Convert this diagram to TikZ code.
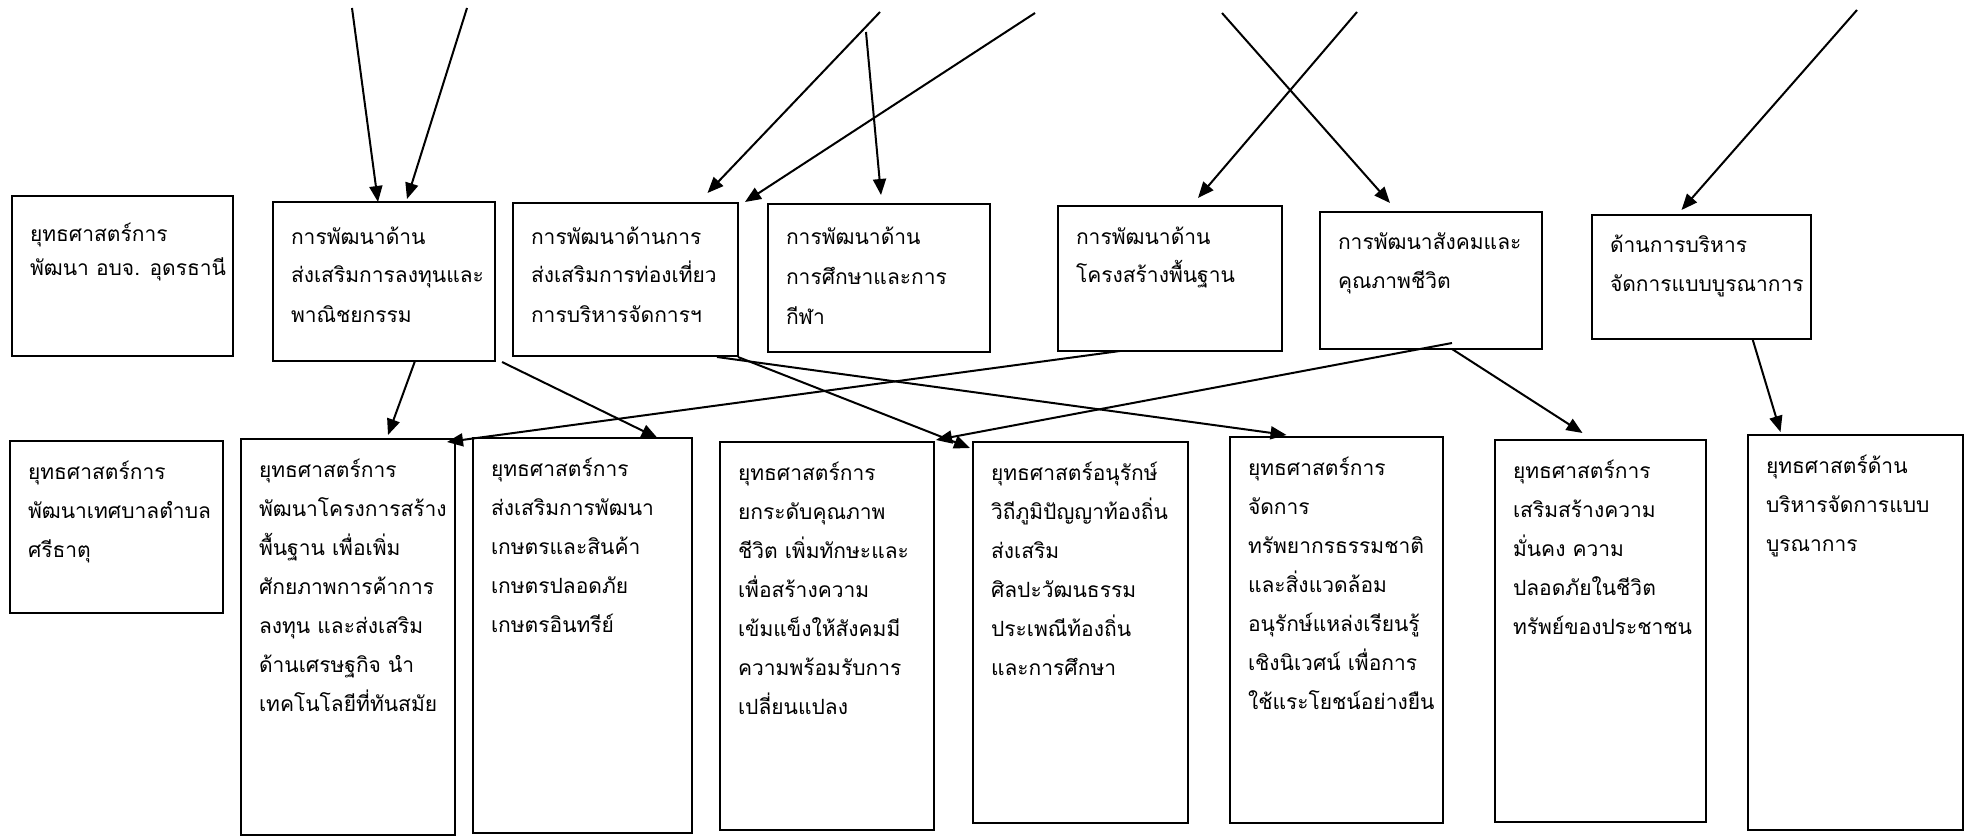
\documentclass[tikz,border=0pt]{standalone}
\usepackage{fontspec}
\newfontfamily\thaifont[Script=Thai]{Loma}
\usetikzlibrary{arrows.meta}
\tikzset{
  box/.style={draw, line width=2pt, inner sep=0pt, outer sep=0pt, anchor=north west},
  txt/.style={anchor=base west, inner sep=0pt, outer sep=0pt},
  arr/.style={line width=2pt, -{Triangle[length=16pt,width=13pt]}},
}
\newcommand{\bt}[2][39pt]{\parbox[t]{210pt}{\thaifont\fontsize{21pt}{#1}\selectfont\raggedright #2}}
\begin{document}
\begin{tikzpicture}[x=1pt,y=-1pt]
\useasboundingbox[fill=white] (0,0) rectangle (1968,837);
% top row
\node[box, minimum width=221pt, minimum height=160pt] (A) at (12,196) {};
\node[box, minimum width=222pt, minimum height=159pt] (B) at (273,202) {};
\node[box, minimum width=225pt, minimum height=153pt] (C) at (513,203) {};
\node[box, minimum width=222pt, minimum height=148pt] (D) at (768,204) {};
\node[box, minimum width=224pt, minimum height=145pt] (E) at (1058,206) {};
\node[box, minimum width=222pt, minimum height=137pt] (F) at (1320,212) {};
\node[box, minimum width=219pt, minimum height=124pt] (G) at (1592,215) {};
% bottom row
\node[box, minimum width=213pt, minimum height=172pt] (H) at (10,441) {};
\node[box, minimum width=214pt, minimum height=396pt] (I) at (241,439) {};
\node[box, minimum width=219pt, minimum height=395pt] (J) at (473,438) {};
\node[box, minimum width=214pt, minimum height=388pt] (K) at (720,442) {};
\node[box, minimum width=215pt, minimum height=381pt] (L) at (973,442) {};
\node[box, minimum width=213pt, minimum height=386pt] (M) at (1230,437) {};
\node[box, minimum width=211pt, minimum height=382pt] (N) at (1495,440) {};
\node[box, minimum width=215pt, minimum height=395pt] (O) at (1748,435) {};
% texts
\node[txt] (At) at ([xshift=18pt,yshift=-46pt]A.north west) {\bt[33pt]{ยุทธศาสตร์การ\\พัฒนา อบจ. อุดรธานี}};
\node[txt] (Bt) at ([xshift=18pt,yshift=-42pt]B.north west) {\bt{การพัฒนาด้าน\\ส่งเสริมการลงทุนและ\\พาณิชยกรรม}};
\node[txt] (Ct) at ([xshift=18pt,yshift=-41pt]C.north west) {\bt{การพัฒนาด้านการ\\ส่งเสริมการท่องเที่ยว\\การบริหารจัดการฯ}};
\node[txt] (Dt) at ([xshift=18pt,yshift=-40pt]D.north west) {\bt[40pt]{การพัฒนาด้าน\\การศึกษาและการ\\กีฬา}};
\node[txt] (Et) at ([xshift=18pt,yshift=-38pt]E.north west) {\bt{การพัฒนาด้าน\\โครงสร้างพื้นฐาน}};
\node[txt] (Ft) at ([xshift=18pt,yshift=-38pt]F.north west) {\bt{การพัฒนาสังคมและ\\คุณภาพชีวิต}};
\node[txt] (Gt) at ([xshift=18pt,yshift=-38pt]G.north west) {\bt{ด้านการบริหาร\\จัดการแบบบูรณาการ}};
\node[txt] (Ht) at ([xshift=18pt,yshift=-38pt]H.north west) {\bt{ยุทธศาสตร์การ\\พัฒนาเทศบาลตำบล\\ศรีธาตุ}};
\node[txt] (It) at ([xshift=18pt,yshift=-38pt]I.north west) {\bt{ยุทธศาสตร์การ\\พัฒนาโครงการสร้าง\\พื้นฐาน เพื่อเพิ่ม\\ศักยภาพการค้าการ\\ลงทุน และส่งเสริม\\ด้านเศรษฐกิจ นำ\\เทคโนโลยีที่ทันสมัย}};
\node[txt] (Jt) at ([xshift=18pt,yshift=-38pt]J.north west) {\bt{ยุทธศาสตร์การ\\ส่งเสริมการพัฒนา\\เกษตรและสินค้า\\เกษตรปลอดภัย\\เกษตรอินทรีย์}};
\node[txt] (Kt) at ([xshift=18pt,yshift=-38pt]K.north west) {\bt{ยุทธศาสตร์การ\\ยกระดับคุณภาพ\\ชีวิต เพิ่มทักษะและ\\เพื่อสร้างความ\\เข้มแข็งให้สังคมมี\\ความพร้อมรับการ\\เปลี่ยนแปลง}};
\node[txt] (Lt) at ([xshift=18pt,yshift=-38pt]L.north west) {\bt{ยุทธศาสตร์อนุรักษ์\\วิถีภูมิปัญญาท้องถิ่น\\ส่งเสริม\\ศิลปะวัฒนธรรม\\ประเพณีท้องถิ่น\\และการศึกษา}};
\node[txt] (Mt) at ([xshift=18pt,yshift=-38pt]M.north west) {\bt{ยุทธศาสตร์การ\\จัดการ\\ทรัพยากรธรรมชาติ\\และสิ่งแวดล้อม\\อนุรักษ์แหล่งเรียนรู้\\เชิงนิเวศน์ เพื่อการ\\ใช้แระโยชน์อย่างยืน}};
\node[txt] (Nt) at ([xshift=18pt,yshift=-38pt]N.north west) {\bt{ยุทธศาสตร์การ\\เสริมสร้างความ\\มั่นคง ความ\\ปลอดภัยในชีวิต\\ทรัพย์ของประชาชน}};
\node[txt] (Ot) at ([xshift=18pt,yshift=-38pt]O.north west) {\bt{ยุทธศาสตร์ด้าน\\บริหารจัดการแบบ\\บูรณาการ}};
% free ends at the top
\coordinate (t1) at (352,8);
\coordinate (t2) at (467,8);
\coordinate (t3) at (880,12);
\coordinate (t4) at (1035,13);
\coordinate (t5) at (866,32);
\coordinate (t6) at (1222,13);
\coordinate (t7) at (1357,12);
\coordinate (t8) at (1857,10);
% incoming arrows
\draw[arr] (t1) -- ([xshift=-6pt]B.north);
\draw[arr] (t2) -- ([xshift=23pt,yshift=3pt]B.north);
\draw[arr] (t3) -- ([xshift=82pt,yshift=10pt]C.north);
\draw[arr] (t4) -- ([xshift=7pt,yshift=1pt]C.north east);
\draw[arr] (t5) -- ([xshift=2pt,yshift=9pt]D.north);
\draw[arr] (t6) -- ([xshift=-41pt,yshift=9pt]F.north);
\draw[arr] (t7) -- ([xshift=28pt,yshift=8pt]E.north);
\draw[arr] (t8) -- ([xshift=-20pt,yshift=5pt]G.north);
% lower arrows
\draw[arr] ([xshift=31pt]B.south) -- ([xshift=40pt,yshift=4pt]I.north);
\draw[arr] ([xshift=7pt,yshift=-1pt]B.south east) -- ([xshift=75pt]J.north);
\draw[arr] ([xshift=-50pt]E.south) -- ([xshift=-8pt,yshift=-3pt]I.north east);
\draw[arr] ([yshift=-1pt]C.south east) -- ([xshift=-3pt,yshift=-6pt]L.north west);
\draw[arr] ([xshift=-21pt,yshift=-1pt]C.south east) -- ([xshift=-50pt,yshift=2pt]M.north);
\draw[arr] ([xshift=21pt,yshift=6pt]F.south) -- ([xshift=2pt,yshift=2pt]K.north east);
\draw[arr] ([xshift=21pt]F.south) -- ([xshift=-18pt,yshift=7pt]N.north);
\draw[arr] ([xshift=51pt]G.south) -- ([xshift=-75pt,yshift=3pt]O.north);
\end{tikzpicture}
\end{document}
